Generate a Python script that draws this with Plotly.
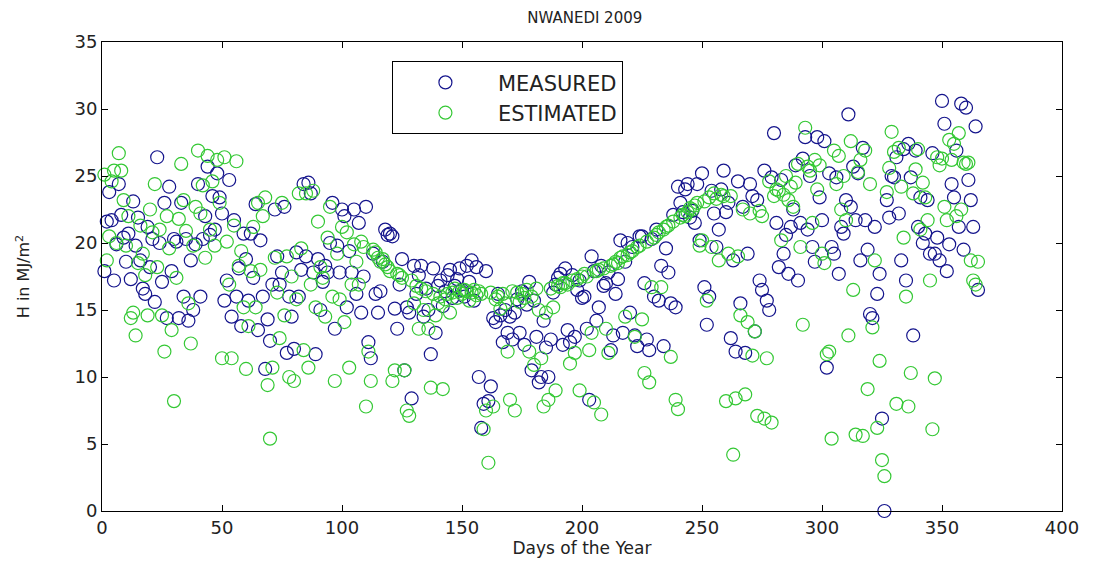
import plotly.graph_objects as go

days = list(range(1, 366))

measured = [
    17.9, 21.6, 23.8, 21.7, 17.2, 19.9, 24.4, 22.1, 20.4, 18.6,
    20.7, 17.3, 23.1, 19.8, 21.9, 18.7, 16.6, 16.2, 21.2, 18.2,
    20.3, 15.6, 26.4, 20.0, 17.1, 23.0, 14.4, 24.2, 17.9, 20.3,
    20.1, 14.4, 23.0, 16.0, 20.3, 14.2, 18.7, 15.0, 19.9, 24.4,
    16.0, 20.3, 22.0, 25.7, 20.6, 23.5, 21.0, 25.2, 23.4, 22.2,
    15.7, 17.2, 24.7, 14.5, 21.7, 16.0, 18.1, 13.8, 20.7, 18.8,
    15.7, 20.7, 17.4, 22.9, 13.5, 20.2, 16.0, 10.6, 14.3, 12.7,
    16.9, 22.5, 19.0, 16.9, 17.8, 22.7, 11.8, 16.0, 14.5, 12.1,
    19.3, 16.0, 18.0, 24.4, 19.0, 24.5, 23.7, 17.8, 11.7, 18.8,
    15.0, 17.1, 18.3, 17.8, 20.0, 23.0, 13.6, 19.8, 17.8, 22.5,
    22.0, 15.2, 19.4, 17.8, 22.5, 16.2, 21.5, 14.8, 17.5, 22.7,
    12.6, 11.4, 19.2, 16.2, 14.8, 16.4, 18.6, 21.0, 20.6, 20.7,
    20.5, 15.1, 13.6, 16.9, 18.8, 10.5, 15.2, 14.8, 8.4, 18.3,
    16.2, 17.6, 18.3, 14.5, 16.6, 15.0, 11.7, 18.1, 13.3, 16.8,
    17.2, 15.3, 16.4, 17.6, 18.0, 15.9, 16.8, 17.3, 18.1, 16.5,
    16.0, 18.3, 17.1, 18.7, 15.7, 18.2, 10.0, 6.2, 8.0, 17.9,
    8.2, 9.3, 14.4, 14.1, 16.2, 14.6, 12.6, 15.0, 13.3, 14.5,
    12.8, 14.8, 15.8, 13.3, 16.4, 12.4, 15.4, 17.1, 10.5, 15.7,
    13.0, 9.6, 10.0, 14.2, 12.2, 10.0, 12.8, 16.3, 16.9, 17.4,
    17.7, 12.4, 18.1, 13.5, 12.6, 17.6, 13.0, 16.5, 17.2, 15.9,
    16.0, 13.6, 8.3, 19.0, 17.9, 14.2, 15.2, 18.3, 16.8, 17.0,
    17.8, 12.0, 13.1, 16.2, 17.3, 20.2, 13.3, 18.6, 20.0, 14.8,
    19.7, 13.1, 12.3, 20.5, 20.5, 17.0, 12.8, 12.0, 20.3, 16.0,
    21.0, 15.7, 18.3, 12.3, 19.6, 17.8, 15.5, 22.1, 15.2, 24.2,
    23.0, 22.3, 24.0, 24.4, 21.9, 22.4, 21.5, 24.4, 20.2, 25.2,
    16.7, 13.9, 16.0, 23.9, 22.2, 19.7, 21.0, 24.0, 25.4, 22.3,
    23.0, 12.9, 18.7, 11.9, 24.6, 15.5, 22.7, 11.8, 19.2, 24.4,
    23.5, 13.4, 23.2, 17.2, 16.5, 25.4, 15.7, 15.0, 24.9, 28.2,
    21.5, 18.2, 24.7, 19.2, 20.6, 17.7, 21.2, 22.5, 25.8, 17.2,
    21.5, 26.3, 27.9, 21.0, 25.0, 19.7, 18.6, 27.9, 23.4, 21.7,
    27.6, 10.7, 25.2, 19.7, 19.2, 24.9, 17.7, 21.2, 20.7, 23.2,
    29.6, 22.7, 25.7, 21.7, 25.2, 18.7, 27.1, 21.7, 19.5, 14.7,
    14.4, 21.2, 16.2, 17.7, 6.9, 0.0, 23.2, 21.9, 25.0, 24.9,
    26.4, 22.2, 18.7, 27.0, 17.2, 27.4, 24.9, 13.1, 26.9, 21.2,
    23.4, 20.0, 20.7, 23.2, 19.2, 26.7, 19.2, 20.4, 18.7, 30.6,
    28.9, 17.9, 19.9, 24.4, 23.4, 26.9, 21.2, 30.4, 19.5, 30.1,
    24.7, 23.2, 21.2, 28.7, 16.5,
]

estimated = [
    25.1, 18.7, 20.5, 24.6, 25.4, 20.0, 26.7, 25.4, 23.2, 19.8,
    22.0, 14.4, 14.8, 13.1, 18.5, 21.3, 19.2, 17.6, 14.6, 22.5,
    20.8, 24.4, 18.2, 21.0, 14.6, 11.9, 22.0, 19.6, 13.5, 8.2,
    17.4, 21.8, 25.9, 23.2, 20.9, 15.5, 12.5, 19.8, 22.7, 26.9,
    22.2, 24.3, 18.9, 26.5, 21.0, 24.6, 19.8, 26.2, 23.0, 11.4,
    26.4, 20.1, 16.9, 11.4, 21.3, 26.1, 18.3, 19.4, 15.2, 10.6,
    13.8, 17.9, 21.2, 15.2, 23.0, 18.0, 22.0, 23.4, 9.4, 5.4,
    10.7, 18.9, 16.3, 12.9, 23.0, 14.6, 19.0, 10.0, 17.5, 9.7,
    15.8, 23.7, 19.6, 12.0, 23.7, 10.7, 16.9, 23.9, 15.2, 21.6,
    18.2, 17.4, 14.5, 20.4, 22.7, 16.0, 9.7, 19.2, 15.8, 21.2,
    14.1, 20.8, 10.7, 16.9, 19.9, 18.6, 16.9, 20.1, 19.7, 7.8,
    11.9, 9.7, 19.5, 19.3, 18.9, 18.6, 18.8, 18.4, 18.2, 17.9,
    9.7, 10.5, 17.7, 17.6, 17.4, 10.5, 7.5, 7.1, 17.2, 15.5,
    16.8, 13.6, 16.6, 15.0, 16.4, 13.6, 9.2, 16.2, 14.6, 15.5,
    16.0, 9.1, 15.8, 16.2, 14.8, 16.3, 16.6, 15.9, 16.4, 16.2,
    16.5, 16.4, 15.7, 16.3, 16.5, 16.1, 16.4, 16.2, 6.1, 7.5,
    3.6, 16.3, 7.8, 15.8, 16.0, 15.1, 16.2, 15.5, 11.9, 8.3,
    16.4, 7.5, 16.3, 15.6, 16.2, 15.9, 16.5, 11.9, 16.0, 10.9,
    16.6, 15.0, 11.4, 7.8, 14.8, 8.3, 16.6, 15.2, 9.0, 16.8,
    16.7, 17.0, 17.0, 16.9, 11.0, 17.2, 11.8, 17.3, 9.0, 17.5,
    17.7, 17.5, 12.0, 13.3, 8.1, 17.9, 18.0, 7.2, 18.1, 13.6,
    11.8, 18.3, 18.4, 18.6, 18.5, 18.9, 19.0, 14.5, 19.1, 19.3,
    19.4, 13.0, 19.7, 19.8, 14.3, 10.3, 20.1, 9.6, 16.7, 20.4,
    20.6, 20.8, 16.7, 21.0, 21.2, 21.3, 11.5, 21.6, 8.3, 7.6,
    21.9, 22.1, 22.0, 22.3, 22.6, 22.5, 22.8, 23.0, 19.8, 20.2,
    23.1, 15.7, 23.4, 19.7, 23.7, 23.3, 18.7, 23.6, 23.5, 8.2,
    19.2, 23.5, 4.2, 8.4, 19.0, 14.6, 22.5, 8.7, 14.1, 22.2,
    11.6, 13.4, 7.1, 22.4, 22.0, 6.9, 11.4, 24.6, 6.6, 23.5,
    24.0, 23.9, 20.2, 23.6, 25.0, 23.2, 24.2, 22.7, 24.5, 25.9,
    19.7, 13.9, 28.6, 25.7, 25.4, 21.5, 26.2, 24.0, 25.8, 19.2,
    18.5, 11.7, 11.9, 5.4, 26.9, 24.4, 26.5, 22.5, 25.0, 21.7,
    13.1, 27.6, 16.5, 5.7, 25.3, 26.2, 5.6, 26.9, 9.1, 24.4,
    13.7, 18.7, 6.2, 11.2, 3.8, 2.6, 23.8, 25.6, 28.3, 26.8,
    8.0, 27.1, 24.2, 20.4, 16.0, 7.8, 10.3, 23.7, 25.5, 27.0,
    21.0, 24.5, 23.4, 21.7, 17.2, 6.1, 9.9, 26.4, 25.8, 26.3,
    22.7, 21.7, 27.7, 26.2, 27.4, 22.0, 28.2, 22.5, 26.0, 25.9,
    26.0, 18.7, 17.2, 16.9, 18.6,
]

x_ticks = [0, 50, 100, 150, 200, 250, 300, 350, 400]
y_ticks = [0, 5, 10, 15, 20, 25, 30, 35]

FONT = "DejaVu Sans, Verdana, sans-serif"

fig = go.Figure()
fig.add_trace(go.Scatter(
    x=days, y=measured, mode="markers", name="MEASURED",
    marker=dict(symbol="circle-open", size=13, color="#14148c",
                line=dict(width=1.2, color="#14148c")),
    cliponaxis=False,
))
fig.add_trace(go.Scatter(
    x=days, y=estimated, mode="markers", name="ESTIMATED",
    marker=dict(symbol="circle-open", size=13, color="#34c834",
                line=dict(width=1.2, color="#34c834")),
    cliponaxis=False,
))

axis_common = dict(
    showline=True, linecolor="black", linewidth=1, mirror="ticks",
    ticks="inside", ticklen=6, tickcolor="black", showgrid=False,
    zeroline=False, tickfont=dict(family=FONT, size=18, color="#222"),
)

fig.update_xaxes(range=[0, 400], tickvals=x_ticks, **axis_common,
                 title=dict(text="Days of the Year", standoff=2,
                            font=dict(family=FONT, size=17, color="#222")))
fig.update_yaxes(range=[0, 35], tickvals=y_ticks, **axis_common,
                 title=dict(text="H in MJ/m<sup>2</sup>", standoff=40,
                            font=dict(family=FONT, size=16, color="#222")))

fig.update_layout(
    width=1093, height=563,
    margin=dict(l=102, r=31, t=42, b=52),
    paper_bgcolor="white", plot_bgcolor="white",
    title=dict(text="NWANEDI 2009", x=0.535, xanchor="center", y=0.968, yanchor="middle",
               font=dict(family=FONT, size=15, color="#222")),
    legend=dict(x=0.302, y=0.959, xanchor="left", yanchor="top",
                bordercolor="black", borderwidth=1, bgcolor="white",
                font=dict(family=FONT, size=21, color="#222"),
                itemwidth=95, tracegroupgap=0),
    showlegend=True,
)

fig.write_html("out.html")
